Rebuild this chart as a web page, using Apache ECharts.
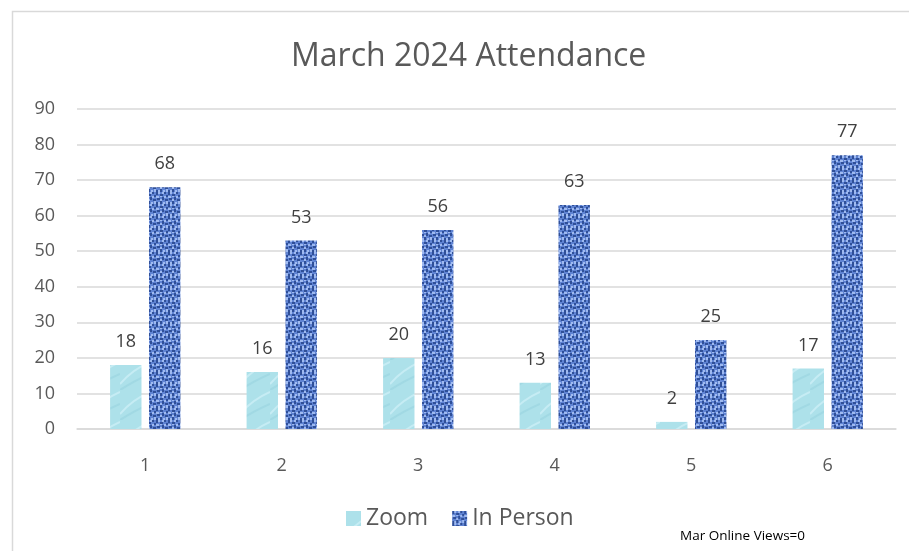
<!DOCTYPE html>
<html><head><meta charset="utf-8">
<script src="https://cdn.jsdelivr.net/npm/echarts@6/dist/echarts.min.js"></script>
<style>html,body{margin:0;padding:0;background:#fff}#c{width:909px;height:551px}</style>
</head><body><div id="c"></div>
<script>
var categories = ['1','2','3','4','5','6'];
var zoomValues = [18,16,20,13,2,17];
var inPersonValues = [68,53,56,63,25,77];
var yTicks = [0,10,20,30,40,50,60,70,80,90];

var FONT='"Open Sans", "Noto Sans", sans-serif';
function makeWeave(){
  var c=document.createElement('canvas');c.width=12;c.height=12;
  var g=c.getContext('2d');
  g.fillStyle='#5f83d3';g.fillRect(0,0,12,12);
  var dark=[[0,0,2,3],[4,2,3,2],[8,0,2,2],[1,6,3,2],[6,5,2,3],[9,7,3,2],[0,10,2,2],[4,9,2,3],[10,3,2,2]];
  var light=[[2,0,2,2],[6,0,2,2],[0,4,3,2],[8,4,2,2],[4,7,2,2],[10,9,2,3],[2,10,2,2],[7,10,2,2],[4,4,2,1]];
  g.fillStyle='#2f4f98';dark.forEach(function(r){g.fillRect(r[0],r[1],r[2],r[3]);});
  g.fillStyle='#9fbaf0';light.forEach(function(r){g.fillRect(r[0],r[1],r[2],r[3]);});
  return c;
}
function makeWater(){
  var c=document.createElement('canvas');c.width=30;c.height=30;
  var g=c.getContext('2d');
  g.fillStyle='#ade1ea';g.fillRect(0,0,30,30);
  g.strokeStyle='rgba(215,244,250,0.6)';g.lineWidth=2;
  g.beginPath();g.moveTo(0,24);g.quadraticCurveTo(12,10,30,2);g.stroke();
  g.strokeStyle='rgba(150,210,222,0.5)';g.lineWidth=2;
  g.beginPath();g.moveTo(0,30);g.quadraticCurveTo(16,20,30,14);g.stroke();
  return c;
}
var weave=makeWeave(), water=makeWater();
var chart=echarts.init(document.getElementById('c'));
chart.setOption({
  animation:false,
  graphic:[
    {type:'rect',shape:{x:12.5,y:11.5,width:1000,height:1000},style:{fill:'none',stroke:'#d9d9d9',lineWidth:1.5},silent:true},
    {type:'text',left:680,top:529,style:{text:'Mar Online Views=0',fontSize:13.5,fill:'#000',fontFamily:FONT}}
  ],
  title:{text:'March 2024 Attendance',left:286,top:36,textStyle:{fontSize:32,fontWeight:'normal',color:'#595959',fontFamily:FONT}},
  legend:{bottom:16,left:341,itemWidth:15,itemHeight:15,itemGap:24,icon:'rect',
    textStyle:{fontSize:23,color:'#595959',fontFamily:FONT},
    data:['Zoom','In Person']},
  grid:{left:77,right:13,top:109,bottom:122},
  xAxis:{type:'category',data:categories,axisTick:{show:false},
    axisLine:{lineStyle:{color:'#d9d9d9',width:1.5}},
    axisLabel:{color:'#595959',fontSize:18,margin:28,fontFamily:FONT}},
  yAxis:{type:'value',min:0,max:90,interval:10,
    axisLabel:{color:'#595959',fontSize:18,margin:22,fontFamily:FONT,
      formatter:function(v){return yTicks.indexOf(v)>=0?String(v):'';}},
    splitLine:{lineStyle:{color:'#d9d9d9',width:1.5}}},
  series:[
    {name:'Zoom',type:'bar',data:zoomValues,barWidth:'23%',barGap:'24%',
     itemStyle:{color:{image:water,repeat:'repeat'}},
     label:{show:true,position:'top',distance:14,fontSize:18,color:'#404040',fontFamily:FONT}},
    {name:'In Person',type:'bar',data:inPersonValues,barWidth:'23%',
     itemStyle:{color:{image:weave,repeat:'repeat'}},
     label:{show:true,position:'top',distance:14,fontSize:18,color:'#404040',fontFamily:FONT}}
  ]
});
</script></body></html>
